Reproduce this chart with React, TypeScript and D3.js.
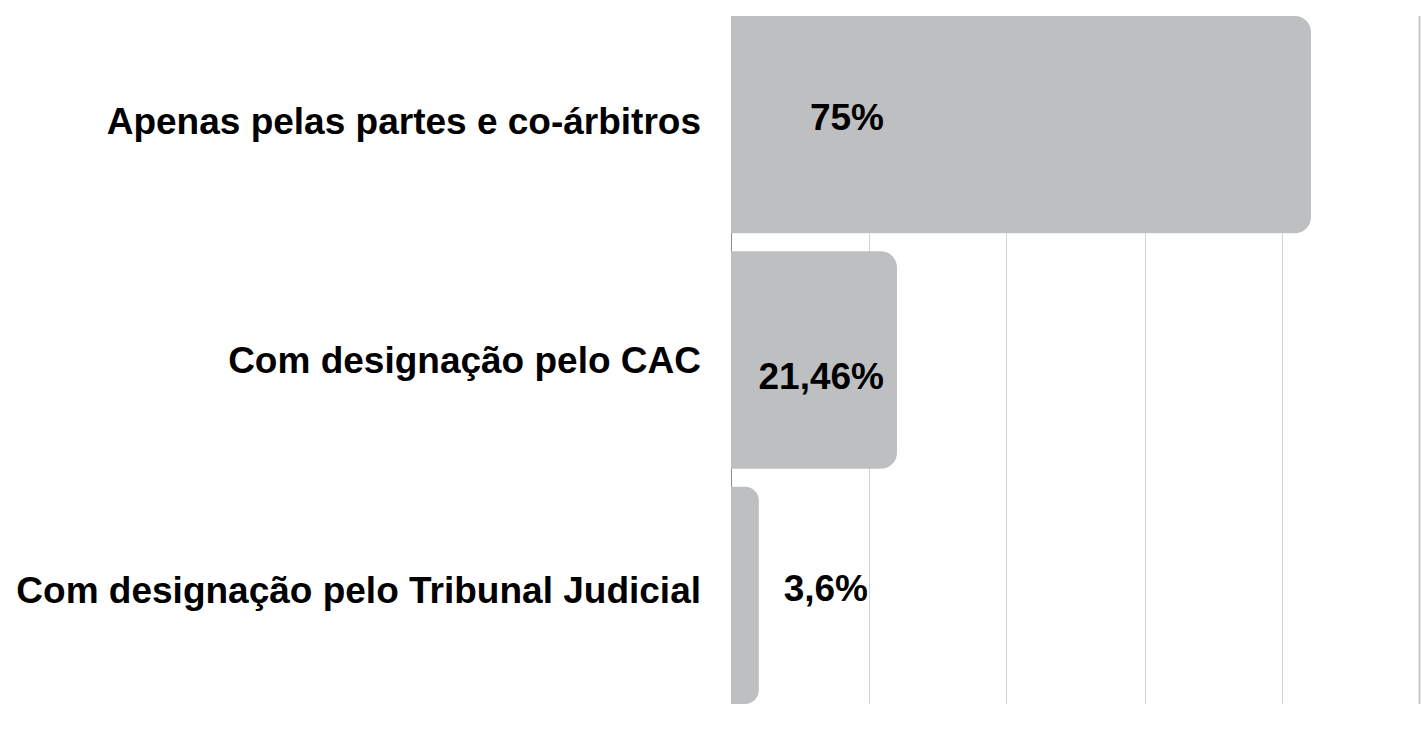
import React from 'react'
import * as d3 from 'd3'

const categories = [
  'Apenas pelas partes e co-árbitros',
  'Com designação pelo CAC',
  'Com designação pelo Tribunal Judicial',
]
const values = [0.75, 0.2146, 0.036]
const valueLabels = ['75%', '21,46%', '3,6%']
const gridValues = [0, 0.178, 0.356, 0.535, 0.713, 0.891]

// layout tweaks (label placement is a bit irregular there)
const catDy = [9, 13, 8]
const valDx = [0, 0, -16]
const valDy = [5, 29, 6]

const W = 1421
const H = 737
const FONT = '"Liberation Sans", Arial, Helvetica, sans-serif'

const barPath = (x0: number, x1: number, y0: number, h: number, r: number) => {
  const rr = Math.min(r, (x1 - x0) / 2, h / 2)
  return `M${x0},${y0}H${x1 - rr}A${rr},${rr} 0 0 1 ${x1},${y0 + rr}V${y0 + h - rr}A${rr},${rr} 0 0 1 ${x1 - rr},${y0 + h}H${x0}Z`
}

const App = () => {
  const xScale = d3.scaleLinear().domain([0, 0.891]).range([731, 1420])
  const yScale = d3.scaleBand().domain(categories).range([16, 704]).paddingInner(0.077).paddingOuter(0)

  const x0 = xScale(0)
  const last = gridValues.length - 1

  return (
    <div style={{ position: 'absolute', left: 0, top: 0 }}>
      <svg width={W} height={H} style={{ display: 'block', background: '#fff' }}>
        <g className="grid">
          {gridValues.map((v, i) => (
            <line
              key={i}
              x1={i === last ? xScale(v) - 0.5 : Math.round(xScale(v)) + 0.5}
              x2={i === last ? xScale(v) - 0.5 : Math.round(xScale(v)) + 0.5}
              y1={16}
              y2={704}
              stroke={i === 0 ? '#8c8c8c' : i === last ? '#c9c9c9' : '#d2d2d2'}
              strokeWidth={i === last ? 2 : 1}
            />
          ))}
        </g>
        <g className="bars">
          {categories.map((c, i) => (
            <path
              key={c}
              d={barPath(x0, xScale(values[i]), yScale(c)!, yScale.bandwidth(), 16)}
              fill="#bebfc1"
            />
          ))}
        </g>
        <g className="cat-labels" fontFamily={FONT} fontWeight="bold" fontSize={37} fill="#000">
          {categories.map((c, i) => (
            <text key={c} x={701} y={yScale(c)! + yScale.bandwidth() / 2 + catDy[i]} textAnchor="end">
              {c}
            </text>
          ))}
        </g>
        <g className="val-labels" fontFamily={FONT} fontWeight="bold" fontSize={37} fill="#000">
          {categories.map((c, i) => (
            <text
              key={c}
              x={x0 + 153 + valDx[i]}
              y={yScale(c)! + yScale.bandwidth() / 2 + valDy[i]}
              textAnchor="end"
            >
              {valueLabels[i]}
            </text>
          ))}
        </g>
      </svg>
    </div>
  )
}

export default App
